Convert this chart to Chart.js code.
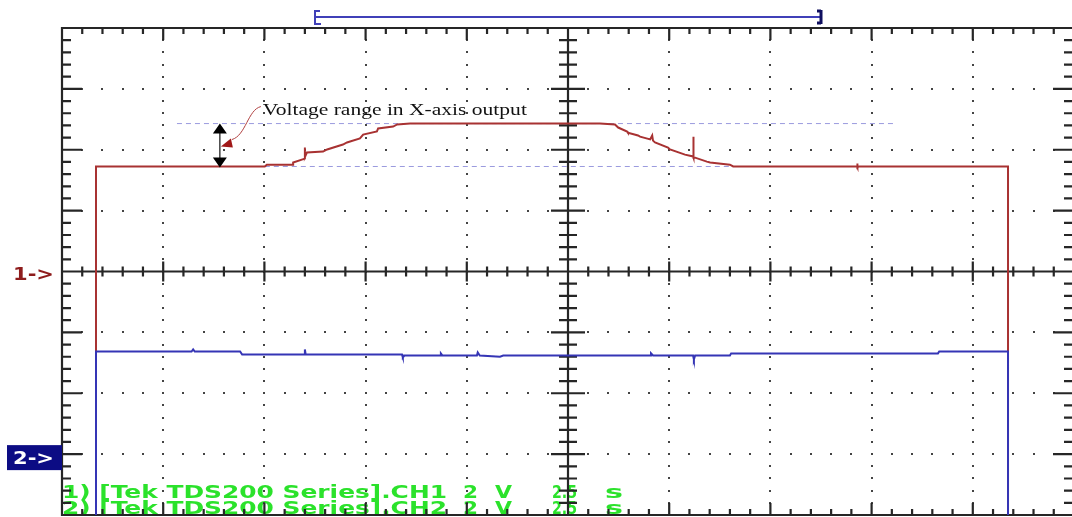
<!DOCTYPE html>
<html>
<head>
<meta charset="utf-8">
<script src="https://cdn.jsdelivr.net/npm/chart.js@4.4.1/dist/chart.umd.min.js"></script>
<style>
html, body { margin: 0; padding: 0; background: #fff; overflow: hidden; }
canvas { display: block; }
</style>
</head>
<body>
<canvas id="scope" width="1076" height="517"></canvas>
<script>
// scope settings: 2.5 s/div, CH1 2 V/div (ref at centre), CH2 2 V/div (ground 3 div below centre)
const secPerDiv = 2.5;
const voltPerDiv = 2;

// CH1 trace (red)
const ch1Time = [0, 0.84, 0.84, 5.01, 5.06, 5.71, 5.71, 6.00, 6.00, 6.00, 6.05, 6.45, 6.55, 6.94, 7.04, 7.36, 7.44, 7.78, 7.81, 8.18, 8.28, 8.60,
  13.29, 13.66, 13.74, 13.96, 13.98, 14.23, 14.28, 14.53, 14.58, 14.60, 14.65, 14.97, 15.02, 15.39, 15.59, 15.59, 15.61, 15.64, 15.93, 16.01, 16.50, 16.58,
  19.64, 19.64, 19.66, 19.68, 23.37, 23.37, 25];
const ch1Volt = [-12, -12, 3.45, 3.45, 3.51, 3.51, 3.58, 3.71, 4.07, 3.76, 3.91, 3.94, 4.01, 4.17, 4.24, 4.37, 4.50, 4.60, 4.70, 4.76, 4.83, 4.86,
  4.86, 4.83, 4.73, 4.60, 4.56, 4.47, 4.43, 4.34, 4.47, 4.30, 4.24, 4.07, 4.01, 3.84, 3.78, 4.43, 3.74, 3.74, 3.61, 3.58, 3.51, 3.45,
  3.45, 3.55, 3.42, 3.45, 3.45, -12, -12];

// CH2 trace (blue)
const ch2Time = [0, 0.84, 0.84, 3.20, 3.24, 3.28, 4.40, 4.45, 6.00, 6.00, 6.02, 8.40, 8.42, 8.46, 9.34, 9.36, 9.40, 10.25, 10.27, 10.32, 10.82, 10.90,
  14.53, 14.55, 14.60, 15.59, 15.61, 15.64, 16.50, 16.53, 21.64, 21.67, 23.37, 23.37, 25];
const ch2Volt = [-10, -10, 3.37, 3.37, 3.44, 3.37, 3.37, 3.27, 3.27, 3.44, 3.27, 3.27, 3.18, 3.24, 3.24, 3.31, 3.24, 3.24, 3.34, 3.24, 3.20, 3.24,
  3.24, 3.31, 3.24, 3.24, 3.11, 3.24, 3.24, 3.31, 3.31, 3.37, 3.37, -10, -10];

// dashed reference levels on CH1
const upperRefTime = [2.84, 20.55];
const upperRefVolt = [4.86, 4.86];
const lowerRefTime = [5.01, 16.58];
const lowerRefVolt = [3.45, 3.45];

// annotation
const rangeArrowTime = 3.90;
const rangeArrowVolt = [3.45, 4.86];
const noteText = 'Voltage range in X-axis output';
const recordView = [6.25, 18.75];

const footerLines = [
  ['1) [Tek TDS200 Series].CH1', '2', 'V', '2.5', 's'],
  ['2) [Tek TDS200 Series].CH2', '2', 'V', '2.5', 's']
];

const pts = (xs, ys) => xs.map((x, i) => ({ x: x, y: ys[i] }));

function stretchText(ctx, str, x, y, w) {
  const m = ctx.measureText(str).width;
  ctx.save();
  ctx.translate(x, y);
  ctx.scale(w / m, 1);
  ctx.fillText(str, 0, 0);
  ctx.restore();
}

const scopePlugin = {
  id: 'scope',
  beforeDatasetsDraw(chart) {
    const ctx = chart.ctx;
    const a = chart.chartArea;
    const xs = chart.scales.x, ys = chart.scales.y;
    const px = i => xs.getPixelForValue(i * secPerDiv);
    const py = j => ys.getPixelForValue(j * voltPerDiv);

    // green readout text (sits behind the graticule)
    ctx.save();
    ctx.fillStyle = '#2be22b';
    ctx.font = 'bold 18px "DejaVu Sans", sans-serif';
    const cols = [[62, 385], [463, 15], [495, 17], [552, 25], [605, 18]];
    footerLines.forEach((line, k) => {
      const base = a.bottom - 17 + k * 16;
      line.forEach((s, c) => stretchText(ctx, s, cols[c][0], base, cols[c][1]));
    });
    ctx.restore();

    // dotted grid
    ctx.save();
    ctx.fillStyle = '#444';
    for (let i = 1; i < 10; i++) {
      if (i === 5) continue;
      for (let k = 0; k <= 40; k++) {
        ctx.fillRect(Math.round(px(i)) - 1, Math.round(py(-4 + k * 0.2)) - 1, 2, 2);
      }
    }
    for (let j = -3; j <= 3; j++) {
      if (j === 0) continue;
      for (let k = 0; k <= 50; k++) {
        ctx.fillRect(Math.round(px(k * 0.2)) - 1, Math.round(py(j)) - 1, 2, 2);
      }
    }
    ctx.restore();

    // axes, border and ticks
    ctx.save();
    ctx.strokeStyle = '#262626';
    ctx.lineWidth = 2.2;
    ctx.beginPath();
    ctx.moveTo(px(5), a.top); ctx.lineTo(px(5), a.bottom);
    ctx.moveTo(a.left, py(0)); ctx.lineTo(a.right, py(0));
    ctx.rect(a.left, a.top, a.right - a.left, a.bottom - a.top);
    for (let k = 0; k <= 50; k++) {
      const x = px(k * 0.2);
      const major = k % 5 === 0;
      const tv = major ? 12 : 6;
      ctx.moveTo(x, a.top); ctx.lineTo(x, a.top + tv);
      ctx.moveTo(x, a.bottom); ctx.lineTo(x, a.bottom - tv);
      const tc = major ? 10 : 5;
      ctx.moveTo(x, py(0) - tc); ctx.lineTo(x, py(0) + tc);
    }
    for (let k = 0; k <= 40; k++) {
      const y = py(-4 + k * 0.2);
      const major = k % 5 === 0;
      const th = major ? 20 : 9;
      ctx.moveTo(a.left, y); ctx.lineTo(a.left + th, y);
      ctx.moveTo(a.right, y); ctx.lineTo(a.right - th - 1, y);
      const tc = major ? 17 : 9;
      ctx.moveTo(px(5) - tc, y); ctx.lineTo(px(5) + tc, y);
    }
    ctx.stroke();
    ctx.restore();
  },
  afterDatasetsDraw(chart) {
    const ctx = chart.ctx;
    const a = chart.chartArea;
    const xs = chart.scales.x, ys = chart.scales.y, ys2 = chart.scales.y2;

    // double-headed range arrow
    const ax = xs.getPixelForValue(rangeArrowTime);
    const yLo = ys.getPixelForValue(rangeArrowVolt[0]);
    const yHi = ys.getPixelForValue(rangeArrowVolt[1]);
    ctx.save();
    ctx.strokeStyle = '#111';
    ctx.fillStyle = '#000';
    ctx.lineWidth = 1.2;
    ctx.beginPath();
    ctx.moveTo(ax, yHi + 8); ctx.lineTo(ax, yLo - 8);
    ctx.stroke();
    ctx.beginPath();
    ctx.moveTo(ax, yHi); ctx.lineTo(ax - 7, yHi + 10); ctx.lineTo(ax + 7, yHi + 10); ctx.closePath();
    ctx.moveTo(ax, yLo + 1); ctx.lineTo(ax - 7, yLo - 9); ctx.lineTo(ax + 7, yLo - 9); ctx.closePath();
    ctx.fill();

    // red pointer and note
    ctx.fillStyle = '#a01818';
    ctx.beginPath();
    ctx.moveTo(ax + 11, yHi + 15); ctx.lineTo(ax + 1, yHi + 23); ctx.lineTo(ax + 13, yHi + 24); ctx.closePath();
    ctx.fill();
    ctx.strokeStyle = '#b04040';
    ctx.lineWidth = 1;
    ctx.beginPath();
    ctx.moveTo(ax + 12, yHi + 16);
    ctx.bezierCurveTo(ax + 26, yHi + 12, ax + 28, yHi - 14, ax + 41, yHi - 17);
    ctx.stroke();
    ctx.fillStyle = '#111';
    ctx.font = '16px "Liberation Serif", "Times New Roman", serif';
    stretchText(ctx, noteText, ax + 43, yHi - 9, 264);

    // record view bracket above the screen
    const bx0 = xs.getPixelForValue(recordView[0]);
    const bx1 = xs.getPixelForValue(recordView[1]);
    const by = a.top - 11;
    ctx.strokeStyle = '#4040b8';
    ctx.lineWidth = 2;
    ctx.beginPath();
    ctx.moveTo(bx0, by); ctx.lineTo(bx1, by);
    ctx.moveTo(bx0, by - 6); ctx.lineTo(bx0, by + 7);
    ctx.moveTo(bx0 - 1, by - 6); ctx.lineTo(bx0 + 5, by - 6);
    ctx.moveTo(bx0 - 1, by + 7); ctx.lineTo(bx0 + 6, by + 7);
    ctx.stroke();
    ctx.strokeStyle = '#101060';
    ctx.lineWidth = 3;
    ctx.beginPath();
    ctx.moveTo(bx1, by - 7); ctx.lineTo(bx1, by + 7);
    ctx.moveTo(bx1 - 4, by - 6); ctx.lineTo(bx1, by - 6);
    ctx.moveTo(bx1 - 4, by + 6); ctx.lineTo(bx1, by + 6);
    ctx.stroke();

    // channel markers
    const y1 = ys.getPixelForValue(0);
    ctx.fillStyle = '#8e1c1c';
    ctx.font = 'bold 18px "DejaVu Sans", sans-serif';
    stretchText(ctx, '1->', 13, y1 + 8, 41);
    const y2 = ys2.getPixelForValue(0);
    ctx.fillStyle = '#0c0c84';
    ctx.fillRect(7, y2 - 9, a.left - 7, 25);
    ctx.fillStyle = '#fff';
    stretchText(ctx, '2->', 13, y2 + 10, 41);
    ctx.restore();
  }
};

new Chart(document.getElementById('scope'), {
  type: 'line',
  data: {
    datasets: [
      {
        label: 'CH2',
        data: pts(ch2Time, ch2Volt),
        yAxisID: 'y2',
        borderColor: '#3535b5',
        borderWidth: 2,
        order: 0
      },
      {
        label: 'CH1',
        data: pts(ch1Time, ch1Volt),
        yAxisID: 'y',
        borderColor: '#a83232',
        borderWidth: 2,
        order: 1
      },
      {
        label: 'upper',
        data: pts(upperRefTime, upperRefVolt),
        yAxisID: 'y',
        borderColor: '#9a9ade',
        borderWidth: 1,
        borderDash: [5, 4],
        order: 2
      },
      {
        label: 'lower',
        data: pts(lowerRefTime, lowerRefVolt),
        yAxisID: 'y',
        borderColor: '#9a9ade',
        borderWidth: 1,
        borderDash: [5, 4],
        order: 2
      }
    ]
  },
  options: {
    responsive: false,
    animation: false,
    devicePixelRatio: 1,
    layout: { padding: { left: 62, top: 28, right: 2, bottom: 2 } },
    elements: { point: { radius: 0 }, line: { tension: 0 } },
    plugins: { legend: { display: false }, tooltip: { enabled: false } },
    scales: {
      x: { type: 'linear', min: 0, max: 25, display: false },
      y: { min: -8, max: 8, display: false },
      y2: { min: -2, max: 14, display: false }
    }
  },
  plugins: [scopePlugin]
});
</script>
</body>
</html>
